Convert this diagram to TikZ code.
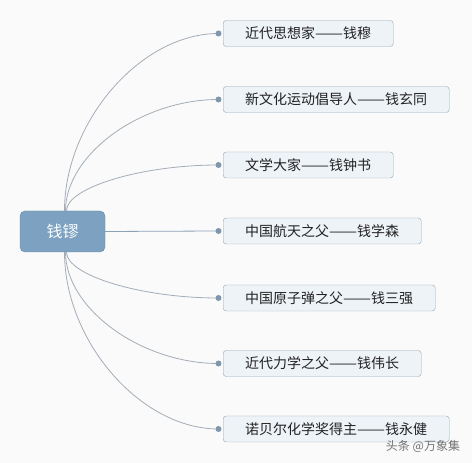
\documentclass[tikz,border=0pt]{standalone}
\usepackage{fontspec}
\setmainfont{Noto Sans CJK SC}
\definecolor{raizAzul}{HTML}{7CA1C1}
\definecolor{cajaFondo}{HTML}{EEF3F8}
\definecolor{cajaBorde}{HTML}{93A4B5}
\definecolor{lineaGris}{HTML}{A3ADB7}
\definecolor{puntoAzul}{HTML}{7F97AD}
\definecolor{textoT}{HTML}{222222}
\newcommand{\raya}{\resizebox{2em}{\height}{——}}

\begin{document}
\begin{tikzpicture}[x=1pt,y=1pt,
    raiz/.style={fill=raizAzul,draw=raizAzul!85!black,rounded corners=5pt,
      minimum width=85pt,minimum height=41pt,text=white,font=\fontsize{16}{16}\selectfont},
    rama/.style={anchor=west,fill=cajaFondo,draw=cajaBorde,rounded corners=3pt,
      minimum height=26pt,inner xsep=22pt,text=textoT,font=\fontsize{14}{14}\selectfont},
    enlace/.style={lineaGris,line width=0.8pt},
    punto/.style={circle,fill=puntoAzul,inner sep=0pt,minimum size=6pt}]
    % fondo
    \fill[white!98!black] (0,0) rectangle (472,463);
    \useasboundingbox (0,0) rectangle (472,463);
    % nodo central
    \node[raiz] (raiz) at (62.5,231.5) {钱镠};
    % ramas
    \node[rama] (r1) at (223,429.5) {近代思想家\raya 钱穆};
    \node[rama] (r2) at (223,363.5) {新文化运动倡导人\raya 钱玄同};
    \node[rama] (r3) at (223,298) {文学大家\raya 钱钟书};
    \node[rama] (r4) at (223,232) {中国航天之父\raya 钱学森};
    \node[rama] (r5) at (223,165) {中国原子弹之父\raya 钱三强};
    \node[rama] (r6) at (223,99.5) {近代力学之父\raya 钱伟长};
    \node[rama] (r7) at (223,34) {诺贝尔化学奖得主\raya 钱永健};
    % puntos de union
    \foreach \i in {1,...,7}
      \coordinate (p\i) at ([xshift=-4.5pt]r\i.west);
    % enlaces
    \draw[enlace] ([xshift=2pt]raiz.north) .. controls +(0,89) and +(-78,0) .. (p1);
    \draw[enlace] ([xshift=3pt]raiz.north) .. controls +(0,56) and +(-78,0) .. (p2);
    \draw[enlace] ([xshift=4pt]raiz.north) .. controls +(0,23) and +(-78,0) .. (p3);
    \draw[enlace,draw=puntoAzul!90] (raiz.east) -- (p4);
    \draw[enlace] ([xshift=4pt]raiz.south) .. controls +(0,-23) and +(-78,0) .. (p5);
    \draw[enlace] ([xshift=3pt]raiz.south) .. controls +(0,-56) and +(-78,0) .. (p6);
    \draw[enlace] ([xshift=2pt]raiz.south) .. controls +(0,-89) and +(-78,0) .. (p7);
    \foreach \i in {1,...,7}
      \node[punto] (q\i) at (p\i) {};
    % marca
    \node[text=black!55,font=\fontsize{12}{12}\selectfont] (marca) at (423,17) {头条 @万象集};
  \end{tikzpicture}
\end{document}
